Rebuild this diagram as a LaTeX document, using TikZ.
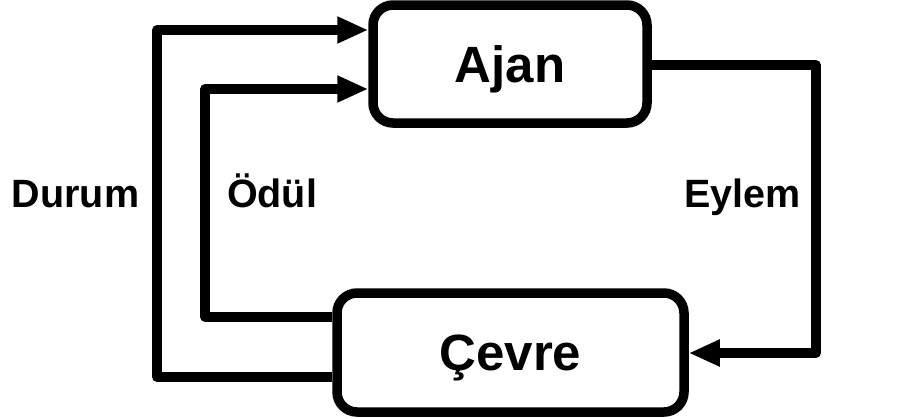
\documentclass[tikz,border=0pt]{standalone}
\usepackage{fontspec}
\setmainfont{Liberation Sans}
\usetikzlibrary{arrows.meta}
\tikzset{
  box/.style={draw=black, line width=9.5pt, rounded corners=20pt, fill=white,
    font=\fontsize{51}{51}\selectfont\bfseries, text height=36.5pt, text depth=0pt, inner sep=0pt},
  conn/.style={draw=black, line width=9.5pt, line join=round},
  arr/.style={-{Triangle[length=31pt, width=25pt]}},
  lbl/.style={font=\fontsize{39.5}{39.5}\selectfont\bfseries, anchor=base, inner sep=0pt}
}
\begin{document}
\begin{tikzpicture}[x=1pt, y=-1pt]
\useasboundingbox (0,0) rectangle (912,418);
\node[box, minimum width=274pt, minimum height=118pt] (ajan) at (510,64) {Ajan};
\node[box, minimum width=347pt, minimum height=119pt] (cevre) at (510.5,352.5) {Çevre};
\coordinate (dA) at (157,377);
\coordinate (dB) at (157,30);
\coordinate (oA) at (205,317);
\coordinate (oB) at (205,89);
\coordinate (eA) at (816,65);
\coordinate (eB) at (816,353);
\draw[conn, arr] (cevre.west |- dA) -- (dA) -- (dB) -- (ajan.west |- dB);
\draw[conn, arr] (cevre.west |- oA) -- (oA) -- (oB) -- (ajan.west |- oB);
\draw[conn, arr] (ajan.east |- eA) -- (eA) -- (eB) -- (cevre.east |- eB);
\node[lbl] (durum) at (75.5,207) {Durum};
\node[lbl] (odul) at (272,207) {Ödül};
\node[lbl] (eylem) at (742.5,207) {Eylem};
\end{tikzpicture}
\end{document}
